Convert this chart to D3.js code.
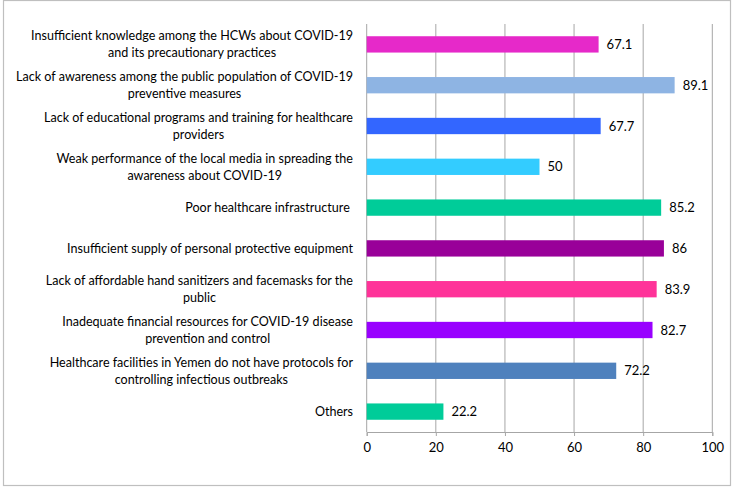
<!DOCTYPE html>
<html><head><meta charset="utf-8">
<script src="https://cdn.jsdelivr.net/npm/d3@7"></script>
<style>body{margin:0;background:#fff;} svg{display:block;} text{white-space:pre;}</style>
</head><body>
<svg id="chart" width="735" height="495"></svg>
<script>
const categories = [
  ["Insufficient knowledge among the HCWs about COVID-19", "and its precautionary practices"],
  ["Lack of awareness among the public population of COVID-19", "preventive measures"],
  ["Lack of educational programs and training for healthcare", "providers"],
  ["Weak performance of the local media in spreading the", "awareness about COVID-19"],
  ["Poor healthcare infrastructure "],
  ["Insufficient supply of personal protective equipment"],
  ["Lack of affordable hand sanitizers and facemasks for the", "public"],
  ["Inadequate financial resources for COVID-19 disease", "prevention and control"],
  ["Healthcare facilities in Yemen do not have protocols for", "controlling infectious outbreaks"],
  ["Others"]
];
const values = [67.1, 89.1, 67.7, 50, 85.2, 86, 83.9, 82.7, 72.2, 22.2];
const colors = ["#e629c9", "#8eb4e3", "#3366ff", "#33ccff", "#00cc99", "#990099", "#ff3399", "#9900ff", "#4f81bd", "#00cc99"];
const xTicks = [0, 20, 40, 60, 80, 100];

const svg = d3.select("#chart");
const font = "Lato, 'Open Sans', sans-serif";

// fit label font so the first label spans ~322px like the reference (Calibri-like width)
const probe = svg.append("text").attr("font-family", font).attr("font-size", 13.5).text(categories[0][0]);
const fs = Math.min(13.5, 13.5 * 322 / probe.node().getComputedTextLength());
probe.remove();
const fsNum = Math.max(fs, 13);

svg.append("rect").attr("x", 3.5).attr("y", 0.5).attr("width", 727).attr("height", 485)
  .attr("fill", "#fff").attr("stroke", "#bfbfbf").attr("stroke-width", 1.2);

const mLeft = 366.7, mRight = 712.3, mTop = 24, mBottom = 432;
const x = d3.scaleLinear().domain([0, 100]).range([mLeft, mRight]);
const y = d3.scaleBand().domain(d3.range(values.length)).range([mTop, mBottom]).paddingInner(0.6).paddingOuter(0.3);

// gridlines
svg.append("g").selectAll("line").data(xTicks).join("line")
  .attr("x1", d => x(d)).attr("x2", d => x(d)).attr("y1", mTop).attr("y2", mBottom)
  .attr("stroke", "#a6a6a6").attr("stroke-width", 1);

// x axis
const ax = svg.append("g").attr("transform", `translate(0,${mBottom})`)
  .call(d3.axisBottom(x).tickValues(xTicks).tickSize(4).tickPadding(7));
ax.select(".domain").attr("stroke", "#a6a6a6");
ax.selectAll(".tick line").attr("stroke", "#a6a6a6");
ax.selectAll(".tick text").attr("font-family", font).attr("font-size", fsNum).attr("fill", "#000");

// bars
svg.append("g").selectAll("rect").data(values).join("rect")
  .attr("x", x(0)).attr("y", (d, i) => y(i)).attr("width", d => x(d) - x(0)).attr("height", y.bandwidth())
  .attr("fill", (d, i) => colors[i]);

// value labels
svg.append("g").selectAll("text").data(values).join("text")
  .attr("x", d => x(d) + 8).attr("y", (d, i) => y(i) + y.bandwidth() / 2).attr("dy", "0.35em")
  .attr("font-family", font).attr("font-size", fsNum).attr("fill", "#000")
  .text(d => d);

// category labels
const labelRight = 353, lh = 17;
const lg = svg.append("g");
categories.forEach((lines, i) => {
  const cy = y(i) + y.bandwidth() / 2;
  const g = lg.append("g");
  const texts = lines.map((t, k) => g.append("text")
    .attr("font-family", font).attr("font-size", fs).attr("fill", "#000")
    .attr("text-anchor", "middle")
    .attr("y", cy + (k - (lines.length - 1) / 2) * lh).attr("dy", "0.35em").text(t));
  const w = d3.max(texts, t => t.node().getComputedTextLength());
  texts.forEach(t => t.attr("x", labelRight - w / 2));
});
</script>
</body></html>
